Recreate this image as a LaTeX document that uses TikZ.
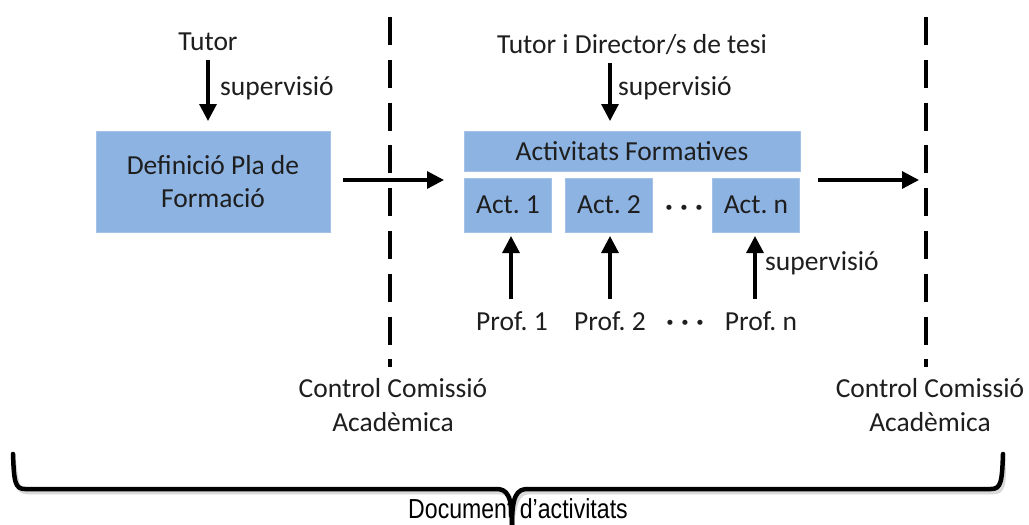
\documentclass[tikz,border=0pt]{standalone}
\usepackage{fontspec}
\setmainfont{Carlito}
\newfontfamily\narrowfont[FakeStretch=0.84]{Liberation Sans}
\usetikzlibrary{arrows.meta}
\definecolor{boxblue}{RGB}{141,179,226}
\definecolor{txt}{RGB}{30,30,30}
\frenchspacing
\tikzset{
  lbl/.style={text=txt,font=\fontsize{27.5}{33}\selectfont,inner sep=0pt,align=center},
  bluebox/.style={fill=boxblue,draw=boxblue!80!white,line width=0.6pt,text=txt,font=\fontsize{27.5}{33}\selectfont,align=center,inner sep=0pt},
  arr/.style={line width=3.2pt,-{Triangle[length=17pt,width=17pt]}},
  divider/.style={line width=3.2pt,dash pattern=on 28pt off 14.8pt},
  brace/.style={line width=4.5pt,line join=round,line cap=round},
  dotsn/.style={text=txt,font=\bfseries\fontsize{27.5}{33}\selectfont,inner sep=0pt}
}
\begin{document}
\begin{tikzpicture}[x=1pt,y=-1pt]
\useasboundingbox (0,0) rectangle (1029,525);
\fill[white] (0,0) rectangle (1029,525);
% dividers
\coordinate (d1t) at (390,17); \coordinate (d1b) at (390,367);
\coordinate (d2t) at (926,17); \coordinate (d2b) at (926,367);
\draw[divider] (d1t) -- (d1b);
\draw[divider] (d2t) -- (d2b);
% left part
\node[lbl] (tutor) at (208,42) {Tutor};
\node[bluebox,minimum width=234pt,minimum height=101pt] (def) at (213,182) {Definició Pla de\\Formació};
\coordinate (t1) at (208,60); \coordinate (t2) at (208,121);
\draw[arr] (t1) -- (t2);
\node[lbl,anchor=west] (sup1) at (220,88) {supervisió};
% middle
\node[lbl] (tdir) at (632,45) {Tutor i Director/s de tesi};
\node[bluebox,minimum width=336pt,minimum height=40pt] (af) at (632,151) {Activitats Formatives};
\coordinate (m1) at (610,63); \coordinate (m2) at (610,121);
\draw[arr] (m1) -- (m2);
\node[lbl,anchor=west] (sup2) at (618,88) {supervisió};
\node[bluebox,minimum width=87pt,minimum height=54pt] (a1) at (508,205) {Act. 1};
\node[bluebox,minimum width=87pt,minimum height=54pt] (a2) at (609,205) {Act. 2};
\node[bluebox,minimum width=87pt,minimum height=54pt] (an) at (756,205) {Act. n};
\node[dotsn] (dots1) at (684,210) {·\;·\;·};
\node[lbl] (p1) at (512,321) {Prof. 1};
\node[lbl] (p2) at (610,321) {Prof. 2};
\node[dotsn] (dots2) at (685,325) {·\;·\;·};
\node[lbl] (pn) at (761,321) {Prof. n};
\coordinate (u1) at (511,299); \coordinate (u1e) at (511,236);
\coordinate (u2) at (610,299); \coordinate (u2e) at (610,236);
\coordinate (un) at (755,299); \coordinate (une) at (755,236);
\draw[arr] (u1) -- (u1e);
\draw[arr] (u2) -- (u2e);
\draw[arr] (un) -- (une);
\node[lbl,anchor=west] (sup3) at (765,263) {supervisió};
% horizontal arrows
\coordinate (h1s) at (343,180); \coordinate (h1e) at (444,180);
\coordinate (h2s) at (818,180); \coordinate (h2e) at (919,180);
\draw[arr] (h1s) -- (h1e);
\draw[arr] (h2s) -- (h2e);
% control labels
\node[lbl,font=\fontsize{27.5}{34}\selectfont] (c1) at (393,405) {Control Comissió\\Acadèmica};
\node[lbl,font=\fontsize{27.5}{34}\selectfont] (c2) at (930,405) {Control Comissió\\Acadèmica};
% bottom label and brace
\node[inner sep=0pt,text=black,font=\narrowfont\fontsize{27.5}{30}\selectfont] (doc) at (518,509) {Document d’activitats};
\coordinate (bl) at (13,454); \coordinate (br) at (1003,454); \coordinate (bt) at (512,525);
\foreach \s/\c in {{(2.5,3)}/gray!30,{(0,0)}/black}{
  \draw[brace,\c,shift=\s] (bl) .. controls (14,482) and (15,489) .. (25,489) -- (496,489) .. controls (507,489) and (512,495) .. (bt);
  \draw[brace,\c,shift=\s] (br) .. controls (1002,482) and (1001,489) .. (991,489) -- (528,489) .. controls (517,489) and (512,495) .. (bt);
}
\end{tikzpicture}
\end{document}
